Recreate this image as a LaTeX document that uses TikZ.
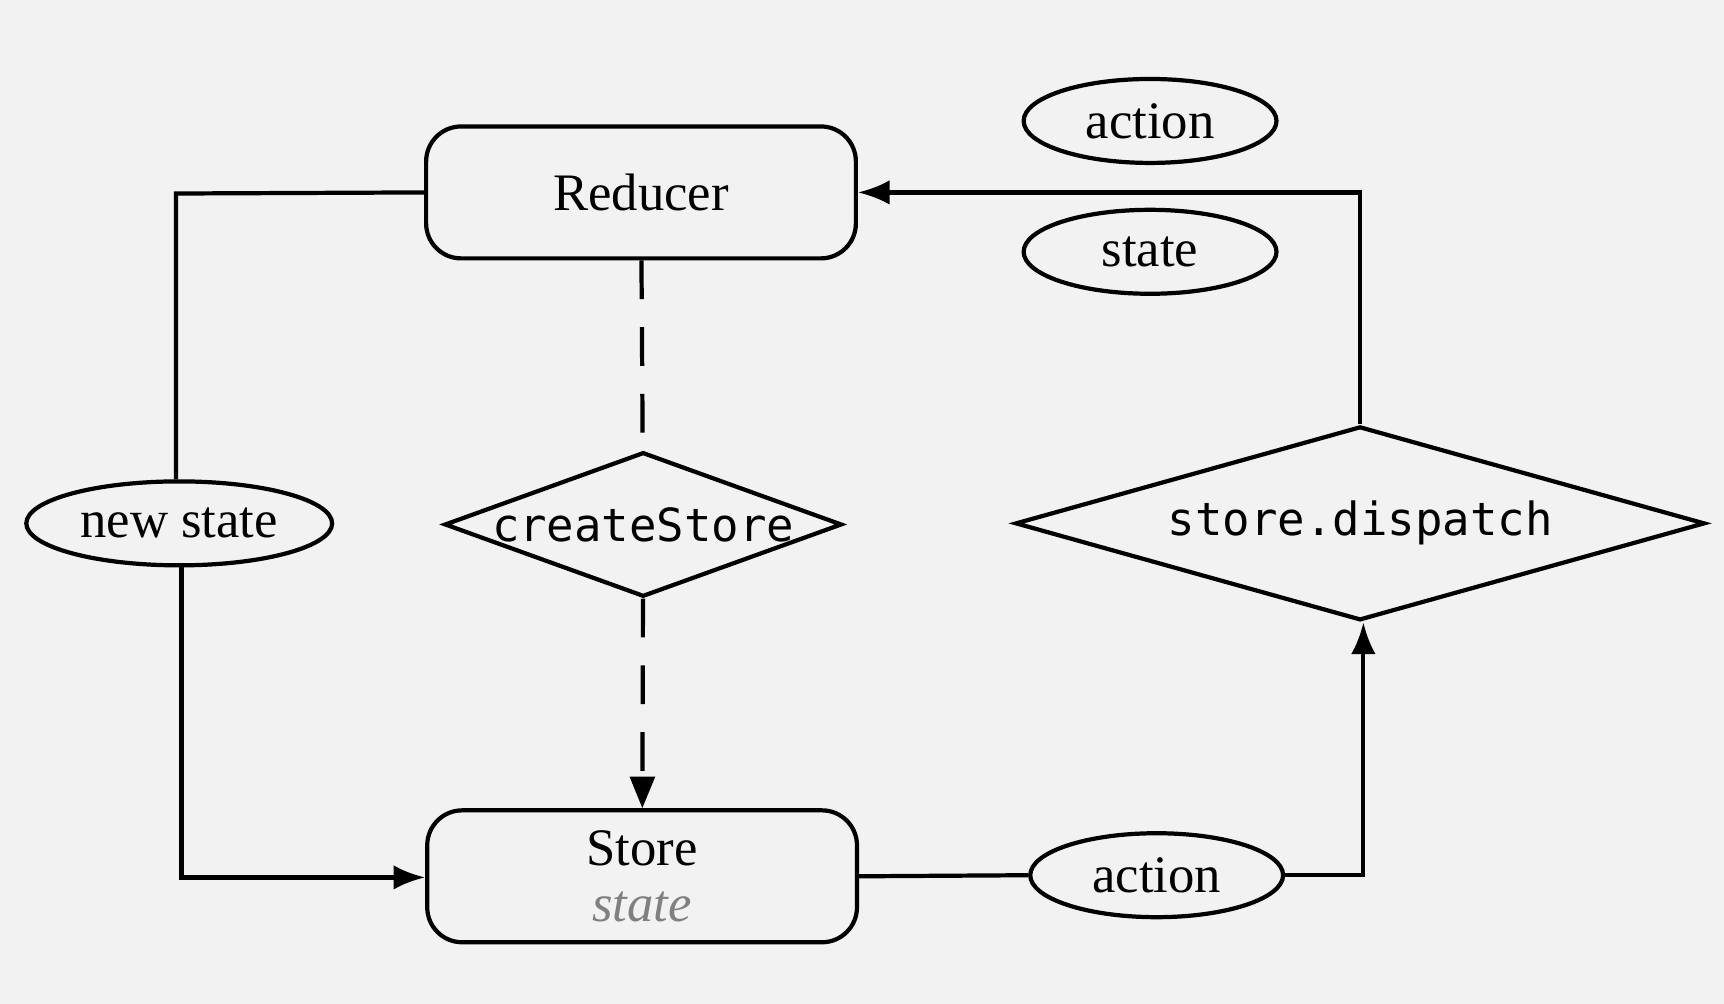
\documentclass[tikz,border=0pt]{standalone}
\usepackage{fontspec}
\setmainfont{Liberation Serif}
\newfontfamily\codefont{DejaVu Sans Mono}
\usetikzlibrary{shapes.geometric,arrows.meta}
\tikzset{
  box/.style={draw,rounded corners=.35cm,line width=1.2pt,minimum width=4.3cm,minimum height=1.32cm,font=\fontsize{15}{17}\selectfont},
  oval/.style={draw,ellipse,line width=1.2pt,minimum width=2.53cm,minimum height=.84cm,inner sep=0pt,font=\fontsize{15}{18}\selectfont},
  gate/.style={draw,diamond,line width=1.2pt,inner sep=0pt,font=\codefont\fontsize{13}{15}\selectfont},
  flow/.style={line width=1.2pt},
  hint/.style={flow,dash pattern=on 11pt off 8pt},
  tip/.style={-{Latex[length=9pt,width=7pt]}},
}
\begin{document}
\begin{tikzpicture}[x=0.011cm,y=-0.011cm]
\fill[gray!10](0,0) rectangle (1568,913);
\useasboundingbox (0,0) rectangle (1568,913);
\node[box] (reducer) at (583,175) {Reducer};
\node[box,align=center] (store) at (584,797) {Store\\[-1pt]{\itshape\color{gray}state}};
\node[oval] (action1) at (1046,110) {action};
\node[oval] (state) at (1046,229) {state};
\node[oval,minimum width=3.06cm] (newstate) at (163,476) {new state};
\node[oval] (action2) at (1052,796) {action};
\node[gate,shape aspect=2.75,minimum height=1.34cm] (create) at (585,477) {createStore};
\node[gate,shape aspect=3.56,minimum height=1.94cm,minimum width=6.9cm] (dispatch) at (1237,476) {store.dispatch};
\coordinate (c1) at (160,176);
\coordinate (c2) at (165,798);
\coordinate (c3) at (1240,796);
\coordinate (c4) at (1237,175);
\draw[flow] (reducer.west) -- (c1) -- (newstate.north-|c1);
\draw[flow,tip] (newstate.south-|c2) -- (c2) -- (store.west|-c2);
\draw[hint] (reducer) -- (create);
\draw[hint,-{Stealth[length=9pt,width=7pt,inset=0pt]}] (create) -- (store);
\draw[flow] (store.east) -- (action2.west);
\draw[flow,tip] (action2.east) -- (c3) -- (c3|-dispatch.south);
\draw[flow,tip] (dispatch.north) -- (c4) -- (reducer.east|-c4);
\end{tikzpicture}
\end{document}
